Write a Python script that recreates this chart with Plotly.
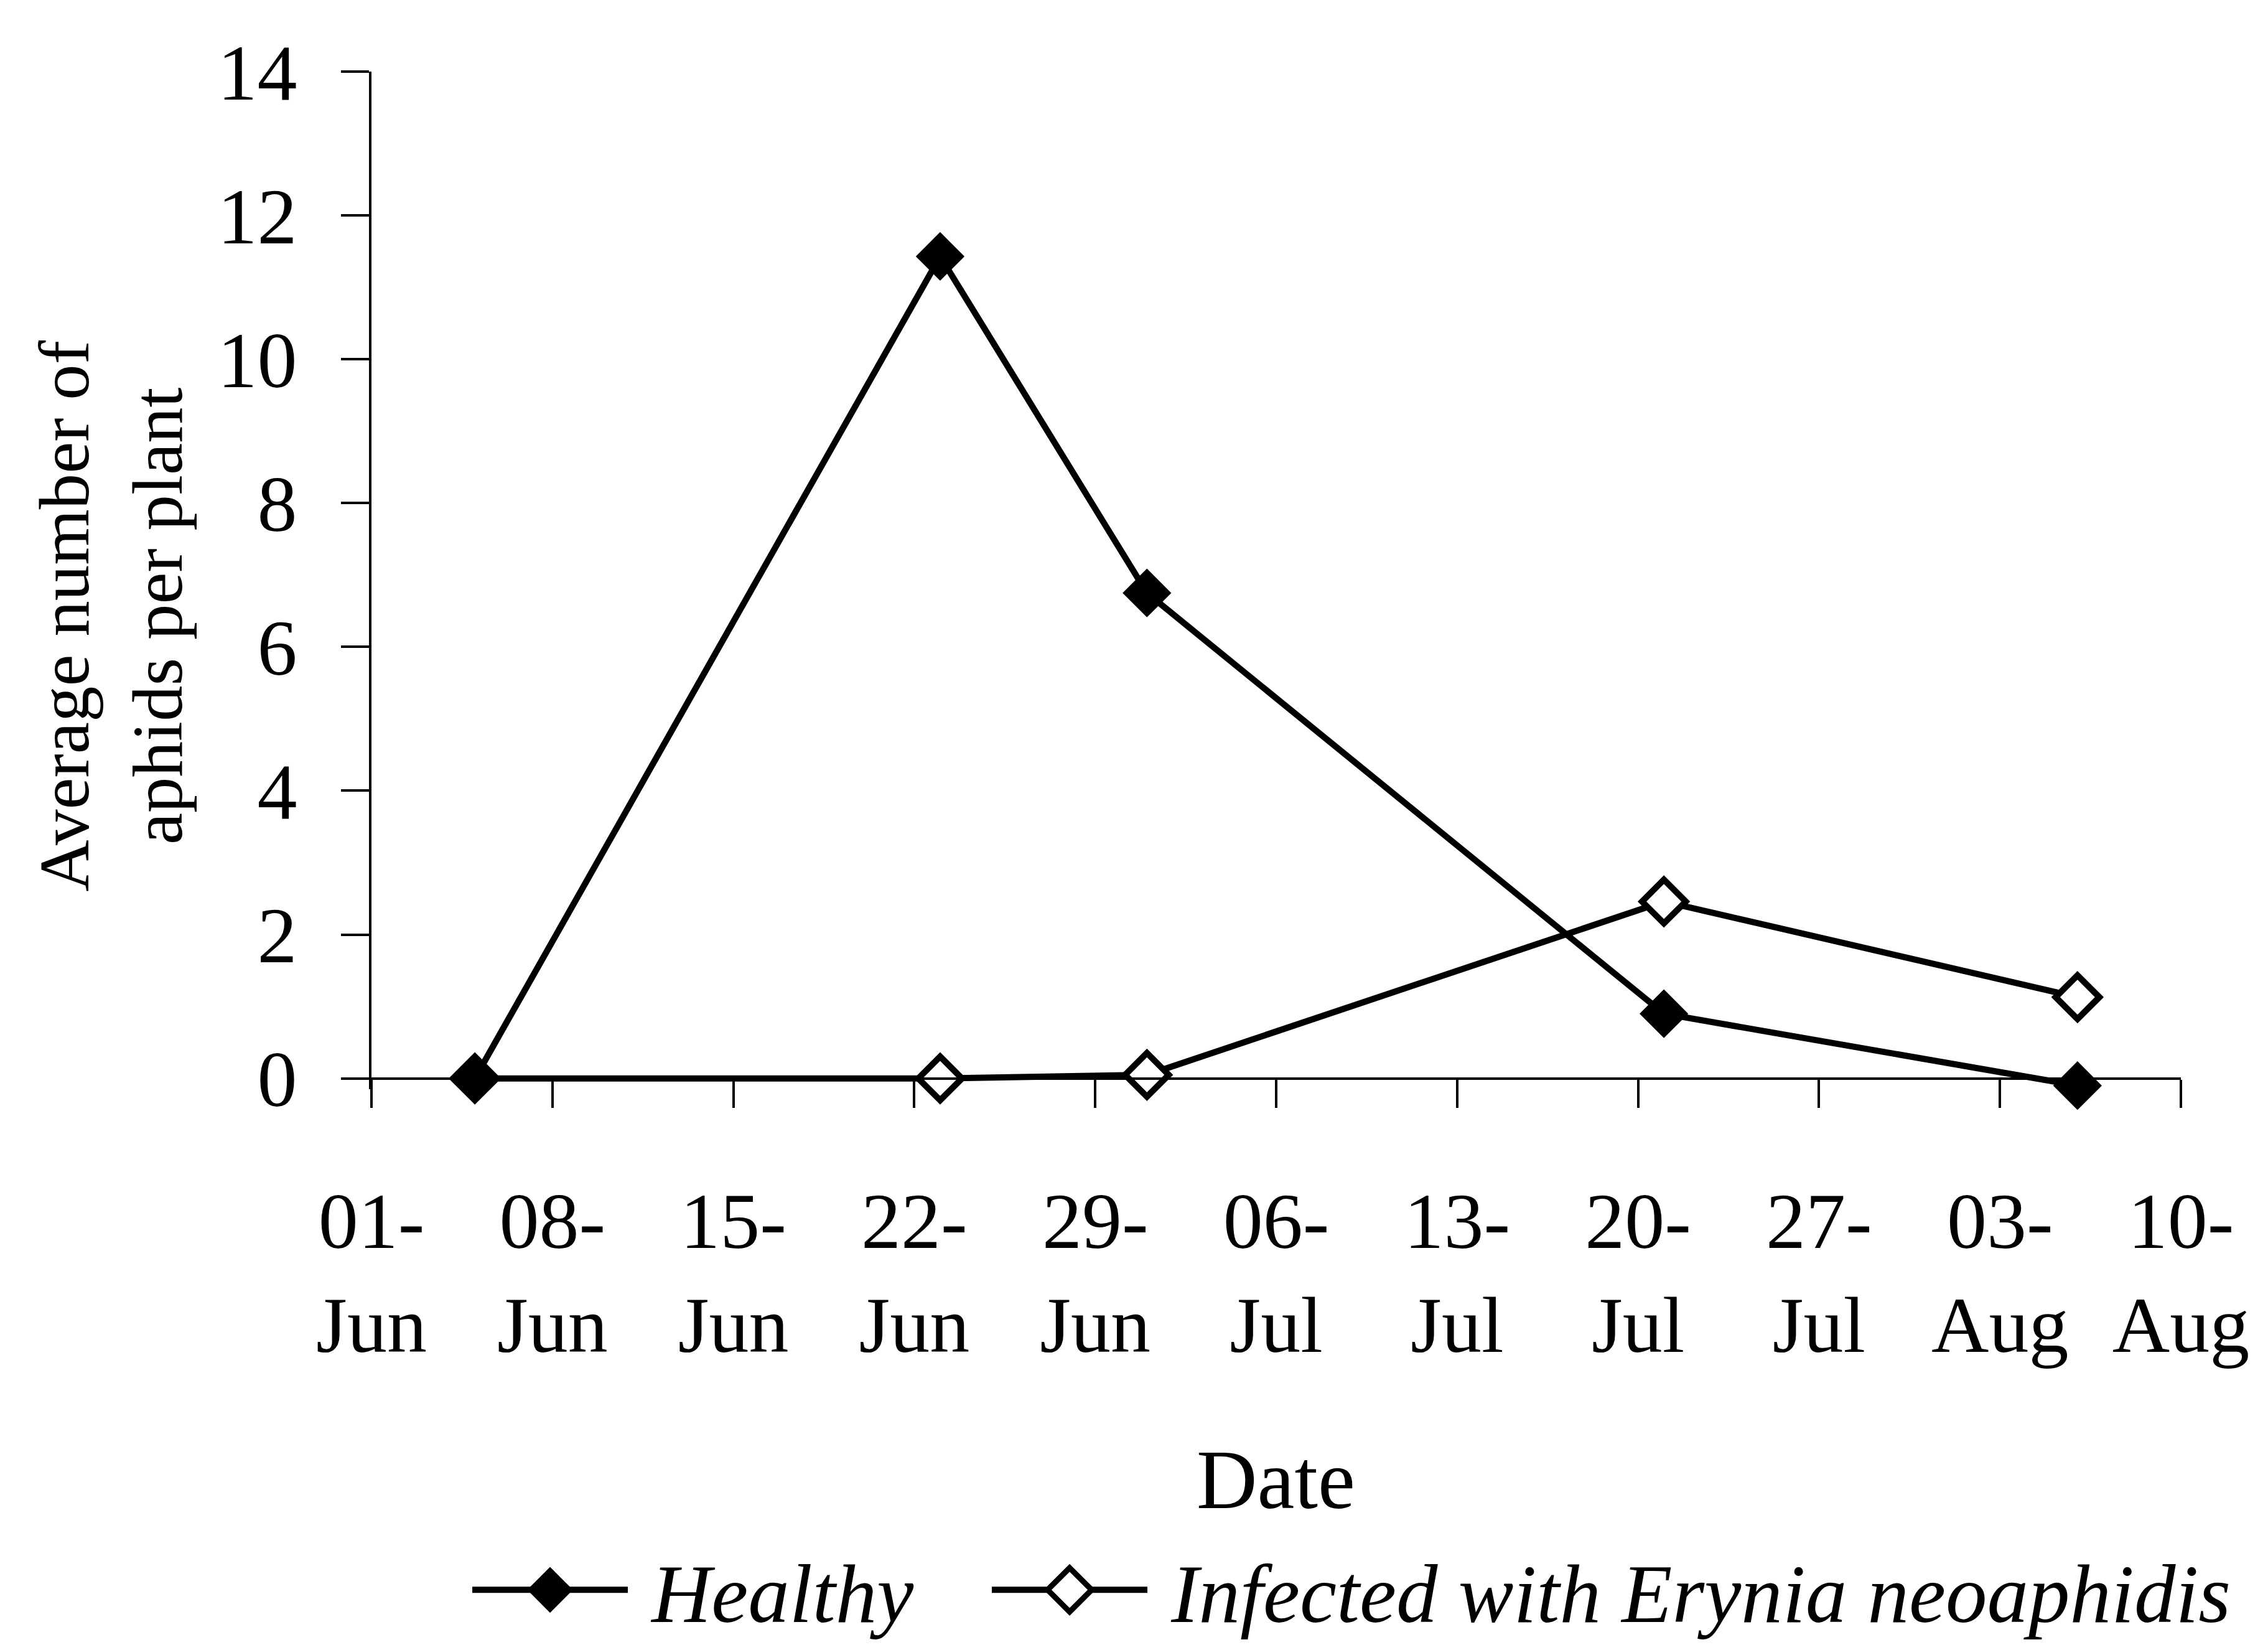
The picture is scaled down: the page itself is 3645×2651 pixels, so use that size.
import plotly.graph_objects as go

# ---- data ----
dates = ["2003-06-05", "2003-06-23", "2003-07-01", "2003-07-21", "2003-08-06"]
healthy = [0.0, 11.43, 6.75, 0.9, -0.1]
infected = [0.0, 0.0, 0.05, 2.46, 1.13]

tick_dates = ["2003-06-01", "2003-06-08", "2003-06-15", "2003-06-22", "2003-06-29",
              "2003-07-06", "2003-07-13", "2003-07-20", "2003-07-27", "2003-08-03",
              "2003-08-10"]
tick_labels = ["01-<br>Jun", "08-<br>Jun", "15-<br>Jun", "22-<br>Jun", "29-<br>Jun",
               "06-<br>Jul", "13-<br>Jul", "20-<br>Jul", "27-<br>Jul", "03-<br>Aug",
               "10-<br>Aug"]
y_ticks = [0, 2, 4, 6, 8, 10, 12, 14]
y_min, y_max = -0.15, 14

FONT = "Liberation Serif"

fig = go.Figure()
fig.add_trace(go.Scatter(
    x=dates, y=infected, mode="lines+markers",
    name="\u00a0Infected with Erynia neoaphidis", legendrank=2,
    line=dict(color="black", width=10),
    marker=dict(symbol="diamond", size=54, color="white",
                line=dict(color="black", width=10)),
    cliponaxis=False,
))
fig.add_trace(go.Scatter(
    x=dates, y=healthy, mode="lines+markers",
    name="\u00a0Healthy", legendrank=1, legendwidth=570,
    line=dict(color="black", width=10),
    marker=dict(symbol="diamond", size=58, color="black",
                line=dict(color="black", width=2)),
    cliponaxis=False,
))

fig.update_layout(
    width=3645, height=2651,
    margin=dict(l=589, r=148, t=107, b=885),
    paper_bgcolor="white", plot_bgcolor="white",
    font=dict(family=FONT, color="black"),
    showlegend=True,
    legend=dict(
        orientation="h", x=0.054, xanchor="left", y=-0.492, yanchor="middle",
        font=dict(family=FONT, size=133, style="italic", color="black"),
        itemwidth=250, bgcolor="rgba(0,0,0,0)", traceorder="normal",
    ),
    xaxis=dict(
        type="date", range=[tick_dates[0], tick_dates[-1]],
        tickmode="array", tickvals=tick_dates, ticktext=tick_labels,
        anchor="free", position=(0 - y_min) / (y_max - y_min),
        showgrid=False, zeroline=False,
        showline=True, linecolor="black", linewidth=4,
        ticks="outside", ticklen=45, tickwidth=4, tickcolor="black",
        tickfont=dict(family=FONT, size=128, color="black"),
        ticklabelstandoff=72,
    ),
    yaxis=dict(
        range=[y_min, y_max], tickmode="array", tickvals=y_ticks,
        showgrid=False, zeroline=False,
        showline=True, linecolor="black", linewidth=4,
        ticks="outside", ticklen=45, tickwidth=4, tickcolor="black",
        tickfont=dict(family=FONT, size=128, color="black"),
        ticklabelstandoff=45,
    ),
    annotations=[
        dict(text="Average number of<br>aphids per plant", xref="paper", yref="paper",
             x=-0.144, y=0.4653, xanchor="center", yanchor="middle", textangle=-90,
             showarrow=False, font=dict(family=FONT, size=115, color="black")),
        dict(text="Date", xref="paper", yref="paper", x=0.4997, y=-0.384,
             xanchor="center", yanchor="middle", showarrow=False,
             font=dict(family=FONT, size=135, color="black")),
    ],
)

post = """
document.querySelectorAll('.legend .legendpoints path.scatterpts').forEach(function(p){
  var t = p.getAttribute('transform') || '';
  p.setAttribute('transform', t + ' scale(3.4)');
  p.style.vectorEffect = 'non-scaling-stroke';
  var sw = parseFloat(p.style.strokeWidth || '0');
  if (sw > 3) { p.style.strokeWidth = '9px'; }
});
"""

fig.write_html("out.html", post_script=post)
